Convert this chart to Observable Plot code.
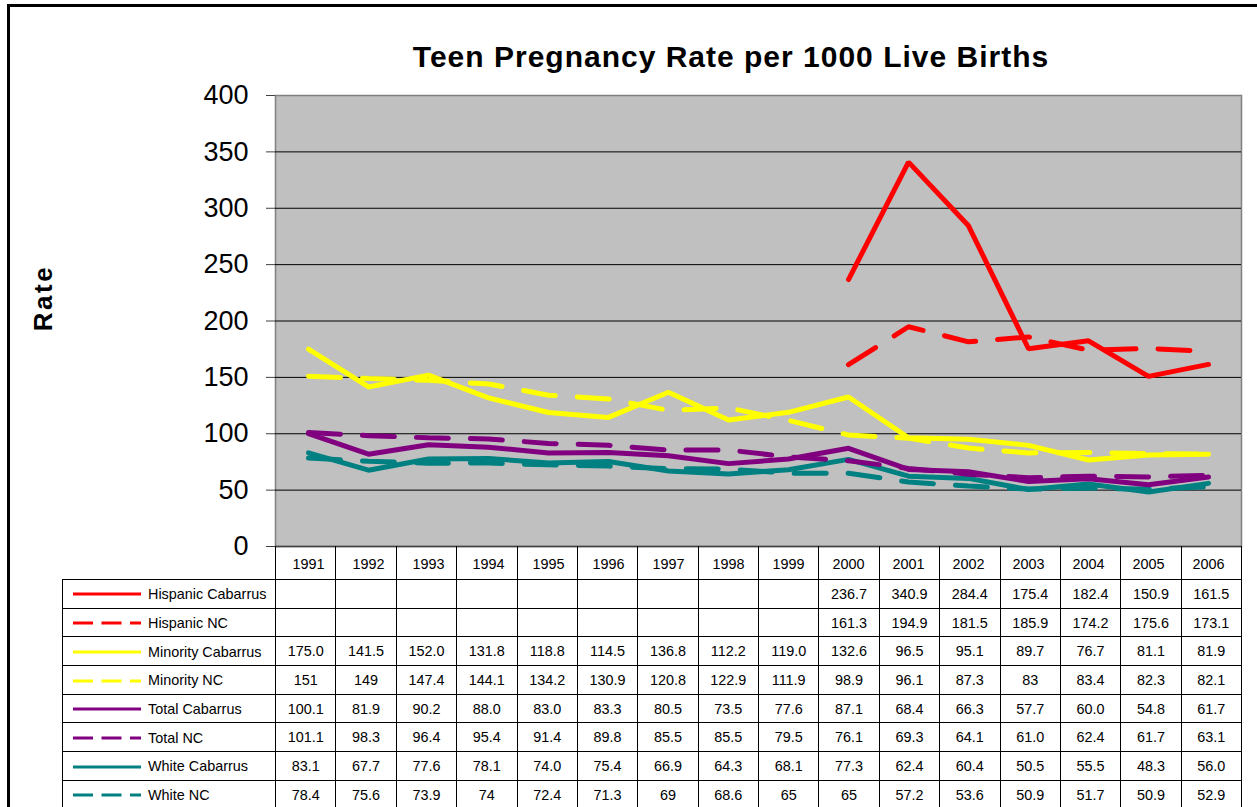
<!DOCTYPE html>
<html>
<head>
<meta charset="utf-8">
<script src="https://cdn.jsdelivr.net/npm/d3@7"></script>
<script src="https://cdn.jsdelivr.net/npm/@observablehq/plot@0.6"></script>
<style>
  html, body { margin: 0; padding: 0; background: white; }
  #wrap { position: relative; width: 1257px; height: 807px; overflow: hidden; background: white; font-family: Arial, "Liberation Sans", sans-serif; }
  #border { position: absolute; left: 7px; top: 4px; width: 1400px; height: 1000px; border-top: 3px solid black; border-left: 3px solid black; }
  #title { position: absolute; left: 200px; width: 1062px; top: 41px; text-align: center; font-weight: bold; font-size: 30px; letter-spacing: 1px; line-height: 32px; color: black; }
  #ylabel { position: absolute; left: 43px; top: 298px; transform: translate(-50%, -50%) rotate(-90deg); font-weight: bold; font-size: 26px; letter-spacing: 2.5px; color: black; white-space: nowrap; }
  #chart { position: absolute; left: 0; top: 0; }
  #tbl { position: absolute; left: 62px; top: 546px; border-collapse: collapse; table-layout: fixed; font-size: 14.4px; color: black; }
  #tbl td { border: 1px solid black; padding: 0; text-align: center; height: 27.7px; white-space: nowrap; overflow: hidden; }
  #tbl tr.head td { height: 33px; border-top: none; }
  #tbl tr.head td.blank { border-left: none; }
  #tbl td.leg { text-align: left; padding-left: 10px; }
  #tbl td.leg svg { vertical-align: middle; margin-right: 7px; }
  #tbl td.leg span { vertical-align: middle; }
</style>
</head>
<body>
<div id="wrap">
  <div id="border"></div>
  <div id="title"></div>
  <div id="ylabel"></div>
  <div id="chart"></div>
  <table id="tbl"></table>
</div>
<script>
const titleText = "Teen Pregnancy Rate per 1000 Live Births";
const yLabel = "Rate";
const years = ["1991","1992","1993","1994","1995","1996","1997","1998","1999","2000","2001","2002","2003","2004","2005","2006"];
const yTicks = [0, 50, 100, 150, 200, 250, 300, 350, 400];

const hispanicCabarrus = [null,null,null,null,null,null,null,null,null,236.7,340.9,284.4,175.4,182.4,150.9,161.5];
const hispanicNC       = [null,null,null,null,null,null,null,null,null,161.3,194.9,181.5,185.9,174.2,175.6,173.1];
const minorityCabarrus = [175.0,141.5,152.0,131.8,118.8,114.5,136.8,112.2,119.0,132.6,96.5,95.1,89.7,76.7,81.1,81.9];
const minorityNC       = [151,149,147.4,144.1,134.2,130.9,120.8,122.9,111.9,98.9,96.1,87.3,83,83.4,82.3,82.1];
const totalCabarrus    = [100.1,81.9,90.2,88.0,83.0,83.3,80.5,73.5,77.6,87.1,68.4,66.3,57.7,60.0,54.8,61.7];
const totalNC          = [101.1,98.3,96.4,95.4,91.4,89.8,85.5,85.5,79.5,76.1,69.3,64.1,61.0,62.4,61.7,63.1];
const whiteCabarrus    = [83.1,67.7,77.6,78.1,74.0,75.4,66.9,64.3,68.1,77.3,62.4,60.4,50.5,55.5,48.3,56.0];
const whiteNC          = [78.4,75.6,73.9,74,72.4,71.3,69,68.6,65,65,57.2,53.6,50.9,51.7,50.9,52.9];

const seriesNames = ["Hispanic Cabarrus","Hispanic NC","Minority Cabarrus","Minority NC","Total Cabarrus","Total NC","White Cabarrus","White NC"];
const seriesValues = [hispanicCabarrus, hispanicNC, minorityCabarrus, minorityNC, totalCabarrus, totalNC, whiteCabarrus, whiteNC];
const seriesColors = ["#FF0000","#FF0000","#FFFF00","#FFFF00","#800080","#800080","#008080","#008080"];
const seriesDashed = [false,true,false,true,false,true,false,true];
const seriesFixed  = [true,true,true,false,true,true,true,false];

document.getElementById("title").textContent = titleText;
document.getElementById("ylabel").textContent = yLabel;

const series = seriesNames.map((name, i) => ({
  name, color: seriesColors[i], dashed: seriesDashed[i], fixed: seriesFixed[i],
  points: years.map((year, j) => ({year, value: seriesValues[i][j]})).filter(d => d.value != null)
}));

// draw order: White, Total, Minority, Hispanic (Hispanic on top)
const drawOrder = [7,6,5,4,3,2,1,0];

const plot = Plot.plot({
  width: 1257,
  height: 580,
  marginTop: 95,
  marginLeft: 275,
  marginRight: 16,
  marginBottom: 34,
  style: {background: "transparent", fontFamily: "Arial, 'Liberation Sans', sans-serif", color: "black", overflow: "visible"},
  x: {type: "band", domain: years, padding: 0, axis: null},
  y: {domain: [0, 400], axis: null},
  marks: [
    Plot.frame({fill: "#C0C0C0", stroke: "#808080", strokeWidth: 1.5}),
    Plot.ruleY(yTicks.filter(t => t > 0 && t < 400), {stroke: "black", strokeWidth: 1}),
    Plot.ruleY([0], {stroke: "#404040", strokeWidth: 1.5}),
    Plot.axisY(yTicks, {tickSize: 9, tickPadding: 18, fontSize: 27, label: null, stroke: "#404040"}),
    Plot.axisX(years, {tickSize: 0, tickPadding: 12, fontSize: 14.4, label: null}),
    ...drawOrder.map(i => Plot.line(series[i].points, {
      x: "year", y: "value",
      stroke: series[i].color, strokeWidth: 5,
      strokeDasharray: series[i].dashed ? "32,22" : null,
      strokeLinecap: "round", strokeLinejoin: "miter"
    }))
  ]
});
document.getElementById("chart").appendChild(plot);

// data table
const tbl = document.getElementById("tbl");
const colgroup = document.createElement("colgroup");
const c0 = document.createElement("col"); c0.style.width = "213px"; colgroup.appendChild(c0);
years.forEach(() => { const c = document.createElement("col"); c.style.width = "60.375px"; colgroup.appendChild(c); });
tbl.appendChild(colgroup);
tbl.style.width = "1179px";

const head = document.createElement("tr");
head.className = "head";
const hb = document.createElement("td"); hb.className = "blank"; head.appendChild(hb);
years.forEach(() => head.appendChild(document.createElement("td")));
tbl.appendChild(head);

series.forEach((s, i) => {
  const tr = document.createElement("tr");
  const leg = document.createElement("td");
  leg.className = "leg";
  const ns = "http://www.w3.org/2000/svg";
  const sw = document.createElementNS(ns, "svg");
  sw.setAttribute("width", "68"); sw.setAttribute("height", "10");
  const ln = document.createElementNS(ns, "line");
  ln.setAttribute("x1", "0"); ln.setAttribute("x2", "68");
  ln.setAttribute("y1", "5"); ln.setAttribute("y2", "5");
  ln.setAttribute("stroke", s.color); ln.setAttribute("stroke-width", "3");
  if (s.dashed) ln.setAttribute("stroke-dasharray", "20,8.5");
  sw.appendChild(ln);
  leg.appendChild(sw);
  const sp = document.createElement("span"); sp.textContent = s.name; leg.appendChild(sp);
  tr.appendChild(leg);
  seriesValues[i].forEach(v => {
    const td = document.createElement("td");
    td.textContent = v == null ? "" : (s.fixed ? v.toFixed(1) : String(v));
    tr.appendChild(td);
  });
  tbl.appendChild(tr);
});
</script>
</body>
</html>
